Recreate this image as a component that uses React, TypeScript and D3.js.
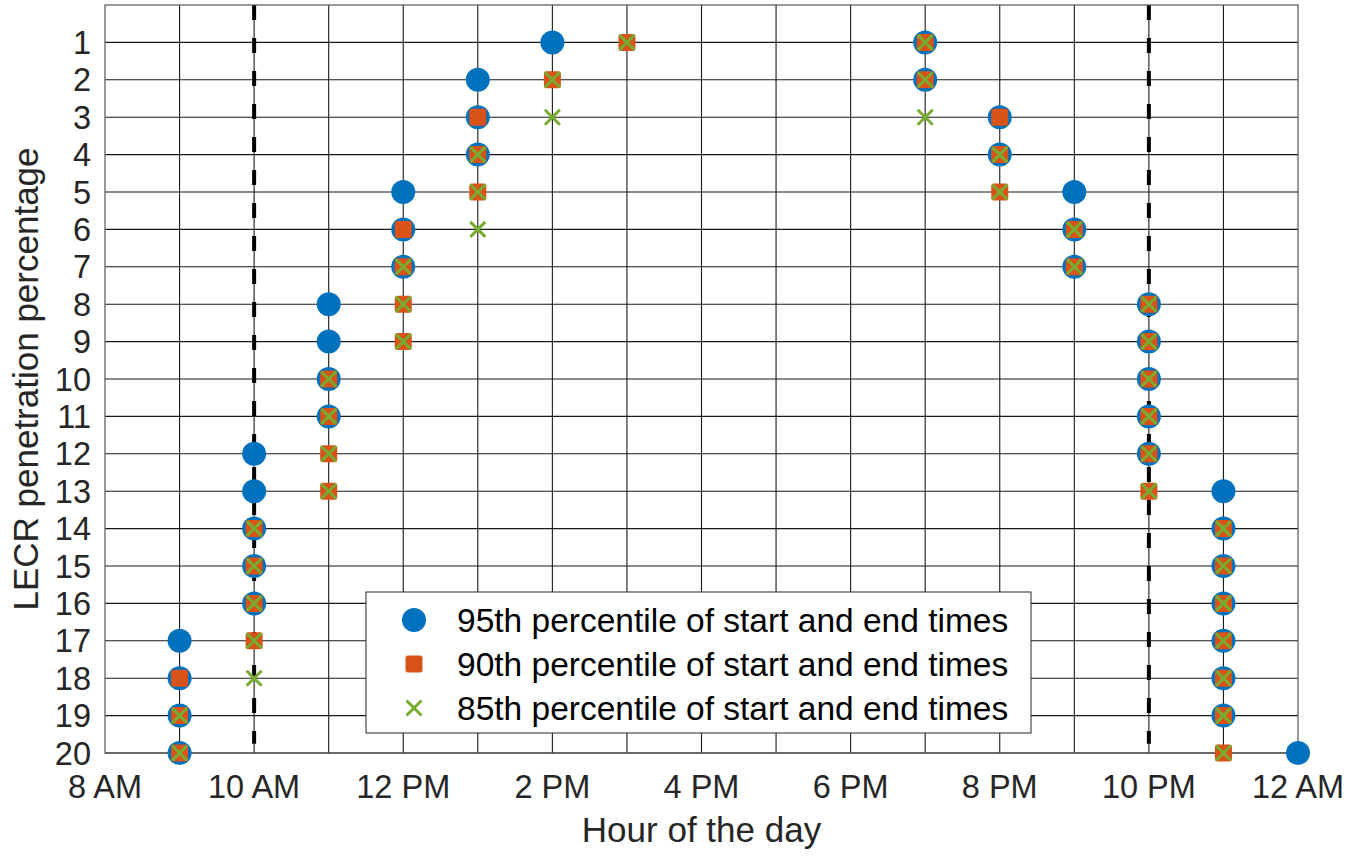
import { useMemo } from "react";
import * as d3 from "d3";

const WIDTH = 1347;
const HEIGHT = 856;
const MARGIN = { top: 5, right: 49, bottom: 103, left: 105 };
const FONT = "'Liberation Sans', Arial, Helvetica, sans-serif";

// penetration levels (y categories)
const penetration = [1, 2, 3, 4, 5, 6, 7, 8, 9, 10, 11, 12, 13, 14, 15, 16, 17, 18, 19, 20];

// hour of start / end for each penetration level
const start95 = [14, 13, 13, 13, 12, 12, 12, 11, 11, 11, 11, 10, 10, 10, 10, 10, 9, 9, 9, 9];
const end95 = [19, 19, 20, 20, 21, 21, 21, 22, 22, 22, 22, 22, 23, 23, 23, 23, 23, 23, 23, 24];
const start90 = [15, 14, 13, 13, 13, 12, 12, 12, 12, 11, 11, 11, 11, 10, 10, 10, 10, 9, 9, 9];
const end90 = [19, 19, 20, 20, 20, 21, 21, 22, 22, 22, 22, 22, 22, 23, 23, 23, 23, 23, 23, 23];
const start85 = [15, 14, 14, 13, 13, 13, 12, 12, 12, 11, 11, 11, 11, 10, 10, 10, 10, 10, 9, 9];
const end85 = [19, 19, 19, 20, 20, 21, 21, 22, 22, 22, 22, 22, 22, 23, 23, 23, 23, 23, 23, 23];

const hourTicks = [8, 10, 12, 14, 16, 18, 20, 22, 24];
const hourLabels = ["8 AM", "10 AM", "12 PM", "2 PM", "4 PM", "6 PM", "8 PM", "10 PM", "12 AM"];
const hourGrid = [9, 10, 11, 12, 13, 14, 15, 16, 17, 18, 19, 20, 21, 22, 23];
const dashedHours = [10, 22];

const legendLabels = [
  "95th percentile of start and end times",
  "90th percentile of start and end times",
  "85th percentile of start and end times",
];

const BLUE = "#0072BD";
const ORANGE = "#D95319";
const GREEN = "#77AC30";

function Circle(x: number, y: number, key: string) {
  return <circle key={key} cx={x} cy={y} r={12} fill={BLUE} />;
}
function Square(x: number, y: number, key: string) {
  return <rect key={key} x={x - 8.5} y={y - 8.5} width={17} height={17} rx={2.5} fill={ORANGE} />;
}
function Cross(x: number, y: number, key: string) {
  const s = 7.5;
  return (
    <g key={key} stroke={GREEN} strokeWidth={3}>
      <line x1={x - s} y1={y - s} x2={x + s} y2={y + s} />
      <line x1={x - s} y1={y + s} x2={x + s} y2={y - s} />
    </g>
  );
}

export default function App() {
  const boundsWidth = WIDTH - MARGIN.left - MARGIN.right;
  const boundsHeight = HEIGHT - MARGIN.top - MARGIN.bottom;

  const xScale = useMemo(() => d3.scaleLinear().domain([8, 24]).range([0, boundsWidth]), [boundsWidth]);
  const yScale = useMemo(() => d3.scaleLinear().domain([0, 20]).range([0, boundsHeight]), [boundsHeight]);

  const series = [
    { starts: start95, ends: end95, draw: Circle, id: "p95" },
    { starts: start90, ends: end90, draw: Square, id: "p90" },
    { starts: start85, ends: end85, draw: Cross, id: "p85" },
  ];

  const marks = series.map((s) => (
    <g key={s.id}>
      {penetration.map((p, i) => [
        s.draw(xScale(s.starts[i]), yScale(p), `${s.id}-s-${p}`),
        s.draw(xScale(s.ends[i]), yScale(p), `${s.id}-e-${p}`),
      ])}
    </g>
  ));

  const legendX = 366 - MARGIN.left;
  const legendY = 592 - MARGIN.top;
  const legendRows = [28, 72, 116];

  return (
    <svg
      width={WIDTH}
      height={HEIGHT}
      style={{ position: "absolute", left: 0, top: 0, background: "#fff" }}
      fontFamily={FONT}
    >
      <g transform={`translate(${MARGIN.left},${MARGIN.top})`}>
        {/* grid */}
        <g stroke="#000" strokeWidth={1.1} opacity={0.9}>
          {hourGrid.map((h) => (
            <line key={`v${h}`} x1={xScale(h)} x2={xScale(h)} y1={0} y2={boundsHeight} />
          ))}
          {penetration.map((p) => (
            <line key={`h${p}`} x1={0} x2={boundsWidth} y1={yScale(p)} y2={yScale(p)} />
          ))}
        </g>
        {/* dashed reference lines */}
        {dashedHours.map((h) => (
          <line
            key={`d${h}`}
            x1={xScale(h)}
            x2={xScale(h)}
            y1={0}
            y2={yScale(19.75)}
            stroke="#000"
            strokeWidth={4}
            strokeDasharray="15,18"
          />
        ))}
        {/* box */}
        <rect x={0} y={0} width={boundsWidth} height={boundsHeight} fill="none" stroke="#555" strokeWidth={1.2} />

        {marks}

        {/* x ticks */}
        {hourTicks.map((h, i) => (
          <text key={`xt${h}`} x={xScale(h)} y={boundsHeight + 45} textAnchor="middle" fontSize={32.5} fill="#262626">
            {hourLabels[i]}
          </text>
        ))}
        {/* y ticks */}
        {penetration.map((p) => (
          <text key={`yt${p}`} x={-14} y={yScale(p) + 11.5} textAnchor="end" fontSize={32.5} fill="#262626">
            {p}
          </text>
        ))}
        <text x={boundsWidth / 2} y={boundsHeight + 89} textAnchor="middle" fontSize={35} fill="#262626">
          Hour of the day
        </text>
        <text
          transform={`translate(${-67},${boundsHeight / 2}) rotate(-90)`}
          textAnchor="middle"
          fontSize={35}
          fill="#262626"
        >
          LECR penetration percentage
        </text>

        {/* legend */}
        <g transform={`translate(${legendX},${legendY})`}>
          <rect x={0} y={0} width={665} height={141} fill="#fff" stroke="#262626" strokeWidth={1} />
          {legendRows.map((ry, i) => (
            <g key={`lg${i}`}>
              {series[i].draw(48, ry, `lgm${i}`)}
              <text x={91} y={ry + 12} fontSize={33.5} fill="#000">
                {legendLabels[i]}
              </text>
            </g>
          ))}
        </g>
      </g>
    </svg>
  );
}
